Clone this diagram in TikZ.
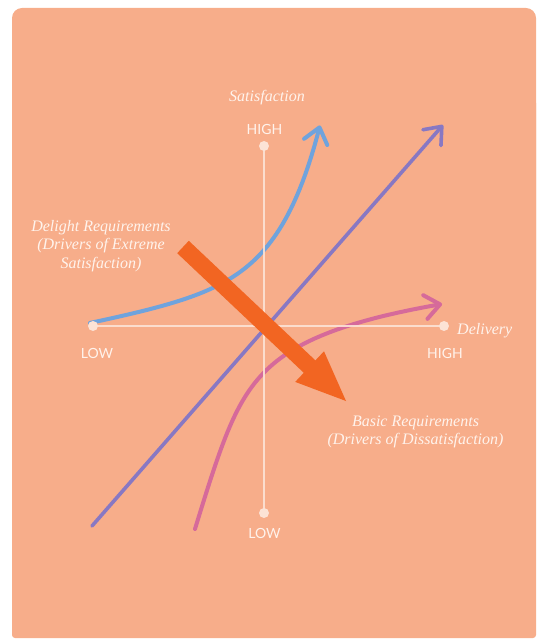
\documentclass[tikz,border=0pt]{standalone}
\usepackage{fontspec}
\setmainfont{Liberation Serif}
\newfontfamily\labfont{Lato}
\usetikzlibrary{arrows.meta}
\definecolor{bgc}{HTML}{F7AD8A}
\definecolor{axc}{HTML}{FCE3D6}
\definecolor{txc}{HTML}{FFF3EC}
\definecolor{bluec}{HTML}{6FA3DD}
\definecolor{purc}{HTML}{8878C3}
\definecolor{pinkc}{HTML}{D66A9A}
\definecolor{orc}{HTML}{F26522}
\tikzset{
  axisline/.style={draw=axc, line width=2.4pt, opacity=0.9},
  axisdot/.style={circle, fill=axc, inner sep=0pt, minimum size=10pt},
  ticklab/.style={text=txc, font=\labfont\fontsize{14}{16}\selectfont, inner sep=0pt},
  itlab/.style={text=txc, font=\itshape\fontsize{16}{18.5}\selectfont, inner sep=0pt, align=center},
  curvetip/.style={-{Straight Barb[length=15pt,width=24pt,line cap=round,round]}},
  curve/.style={line width=4pt, line cap=round, curvetip},
}
\begin{document}
\begin{tikzpicture}[x=1pt,y=-1pt]
\useasboundingbox (0,0) rectangle (539,639);
% background
\fill[bgc, rounded corners=10pt] (12,8) rectangle (536,300);
\fill[bgc, rounded corners=3pt] (12,100) rectangle (536,638);
% axis end points
\coordinate (ytop) at (264,146);
\coordinate (ybot) at (264,513);
\coordinate (xl) at (93,326);
\coordinate (xr) at (444,326);
% curves
\draw[curve, draw=bluec] plot[domain=90:320, samples=80] (\x, {323.5 - 0.2*(\x-90) - 0.548*exp(0.02446*(\x-90))});
\draw[curve, draw=pinkc] plot[domain=0:225, samples=80] ({195 + 0.3*\x + 0.188*(exp(0.0305*\x)-1)}, {529-\x});
\coordinate (pa) at (92,526);
\coordinate (pb) at (443,125);
\draw[line width=3.6pt, draw=purc, line cap=round, curvetip] (pa) -- (pb);
% axes
\draw[axisline] (ytop) -- (ybot);
\draw[axisline] (xl) -- (xr);
\node[axisdot] (dtop) at (ytop) {};
\node[axisdot] (dbot) at (ybot) {};
\node[axisdot] (dl) at (xl) {};
\node[axisdot] (dr) at (xr) {};
% tick labels
\node[ticklab] (hightop) at (264.5,129) {HIGH};
\node[ticklab] (lowleft) at (97,353) {LOW};
\node[ticklab] (highright) at (445,353) {HIGH};
\node[ticklab] (lowbot) at (264.5,533) {LOW};
% axis titles
\node[itlab] (sat) at (267,98) {Satisfaction};
\node[itlab, anchor=west] (deliv) at (457,331) {Delivery};
% annotations
\node[itlab] (delight) at (101,246) {Delight Requirements\\(Drivers of Extreme\\Satisfaction)};
\node[itlab] (basic) at (415.5,432) {Basic Requirements\\(Drivers of Dissatisfaction)};
% orange arrow
\fill[orc] (177.2,253.2) -- (303.8,372.8) -- (295.2,381.9) -- (346,401) -- (324,351.3) -- (315.4,360.4) -- (188.8,240.8) -- cycle;
\end{tikzpicture}
\end{document}
